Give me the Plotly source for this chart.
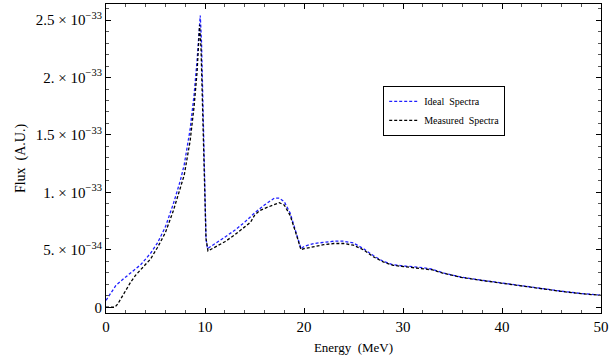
import plotly.graph_objects as go

# Energy grid (MeV) and flux values (units of 1e-33, A.U.)
energy_ideal = [0, 0.5, 1, 1.8, 2.5, 3.5, 4.5, 5.2, 6, 6.8, 7.5, 7.9, 8.5, 8.9, 9.2, 9.4, 9.52,
                9.65, 9.8, 9.95, 10.1, 10.25, 11, 12, 13, 14, 15, 16, 17, 17.5, 18, 18.6, 19.2,
                19.7, 20, 21, 22, 23, 24, 25, 26, 27, 28, 29, 30, 31, 32, 33, 34, 35, 36, 38,
                40, 42, 44, 46, 48, 50]
flux_ideal = [0.06, 0.13, 0.19, 0.25, 0.30, 0.37, 0.47, 0.56, 0.70, 0.90, 1.10, 1.24, 1.55, 1.85,
              2.15, 2.40, 2.54, 2.30, 1.70, 1.05, 0.60, 0.51, 0.55, 0.61, 0.67, 0.74, 0.82, 0.89,
              0.95, 0.95, 0.92, 0.82, 0.65, 0.51, 0.53, 0.555, 0.565, 0.575, 0.575, 0.56, 0.51,
              0.45, 0.40, 0.37, 0.36, 0.355, 0.345, 0.33, 0.30, 0.28, 0.26, 0.235, 0.21, 0.185,
              0.16, 0.14, 0.12, 0.105]

energy_meas = [0, 0.5, 0.9, 1.2, 1.8, 2.5, 3, 3.5, 4.5, 5.2, 6, 6.8, 7.5, 7.9, 8.5, 8.9, 9.2,
               9.35, 9.46, 9.6, 9.8, 9.95, 10.1, 10.3, 11, 12, 13, 14, 14.6, 15, 15.5, 16, 17,
               17.5, 18, 18.6, 19.2, 19.7, 20, 21, 22, 23, 24, 25, 26, 27, 28, 29, 30, 31, 32,
               33, 34, 35, 36, 38, 40, 42, 44, 46, 48, 50]
flux_meas = [0.0, 0.0, 0.0, 0.03, 0.12, 0.22, 0.28, 0.33, 0.42, 0.52, 0.65, 0.84, 1.03, 1.15,
             1.45, 1.75, 2.05, 2.30, 2.46, 2.25, 1.65, 1.05, 0.60, 0.49, 0.52, 0.57, 0.63, 0.70,
             0.74, 0.80, 0.84, 0.86, 0.89, 0.91, 0.89, 0.80, 0.64, 0.50, 0.51, 0.53, 0.545,
             0.555, 0.555, 0.54, 0.50, 0.44, 0.395, 0.365, 0.355, 0.35, 0.34, 0.325, 0.298,
             0.278, 0.258, 0.233, 0.208, 0.183, 0.158, 0.138, 0.118, 0.104]

y_tick_vals = [0, 0.5, 1.0, 1.5, 2.0, 2.5]
y_tick_text = ["0", "5. × 10<sup>−34</sup>", "1. × 10<sup>−33</sup>", "1.5 × 10<sup>−33</sup>",
               "2. × 10<sup>−33</sup>", "2.5 × 10<sup>−33</sup>"]
x_tick_vals = [0, 10, 20, 30, 40, 50]

SCALE = 1e-33

fig = go.Figure()
fig.add_trace(go.Scatter(x=energy_ideal, y=[v * SCALE for v in flux_ideal], mode="lines",
                         name="Ideal  Spectra",
                         line=dict(color="#1f1fff", width=1.3, dash="3px,2px")))
fig.add_trace(go.Scatter(x=energy_meas, y=[v * SCALE for v in flux_meas], mode="lines",
                         name="Measured  Spectra",
                         line=dict(color="black", width=1.3, dash="3px,2px")))

font_family = "Liberation Serif"
fig.update_layout(
    width=616, height=359,
    margin=dict(l=106, r=15, t=4, b=46),
    paper_bgcolor="white", plot_bgcolor="white",
    font=dict(family=font_family, size=13, color="black"),
    showlegend=True,
    legend=dict(x=0.56, y=0.735, xanchor="left", yanchor="top",
                bordercolor="black", borderwidth=1, bgcolor="white",
                font=dict(family=font_family, size=10), itemwidth=30,
                tracegroupgap=0),
)
fig.update_xaxes(
    range=[0, 50], tickvals=x_tick_vals, ticktext=[str(v) for v in x_tick_vals],
    ticks="inside", ticklen=5, tickcolor="black", showline=True, linecolor="black",
    linewidth=1, mirror="ticks", showgrid=False, zeroline=False,
    minor=dict(ticks="inside", ticklen=3, tickcolor="#555", dtick=2, showgrid=False),
    title=dict(text="Energy  (MeV)", font=dict(size=13, family=font_family), standoff=8),
    tickfont=dict(size=15, family=font_family),
)
fig.update_yaxes(
    range=[-0.05 * SCALE, 2.64 * SCALE], tickvals=[v * SCALE for v in y_tick_vals],
    ticktext=y_tick_text,
    ticks="inside", ticklen=5, tickcolor="black", showline=True, linecolor="black",
    linewidth=1, mirror="ticks", showgrid=False, zeroline=False,
    minor=dict(ticks="inside", ticklen=3, tickcolor="#555", dtick=0.1 * SCALE,
               tick0=0, showgrid=False),
    title=dict(text="Flux  (A.U.)", font=dict(size=14, family=font_family), standoff=6),
    tickfont=dict(size=15, family=font_family),
)

fig.write_html("out.html", config={"displayModeBar": False},
               post_script="document.body.style.margin='0';")
